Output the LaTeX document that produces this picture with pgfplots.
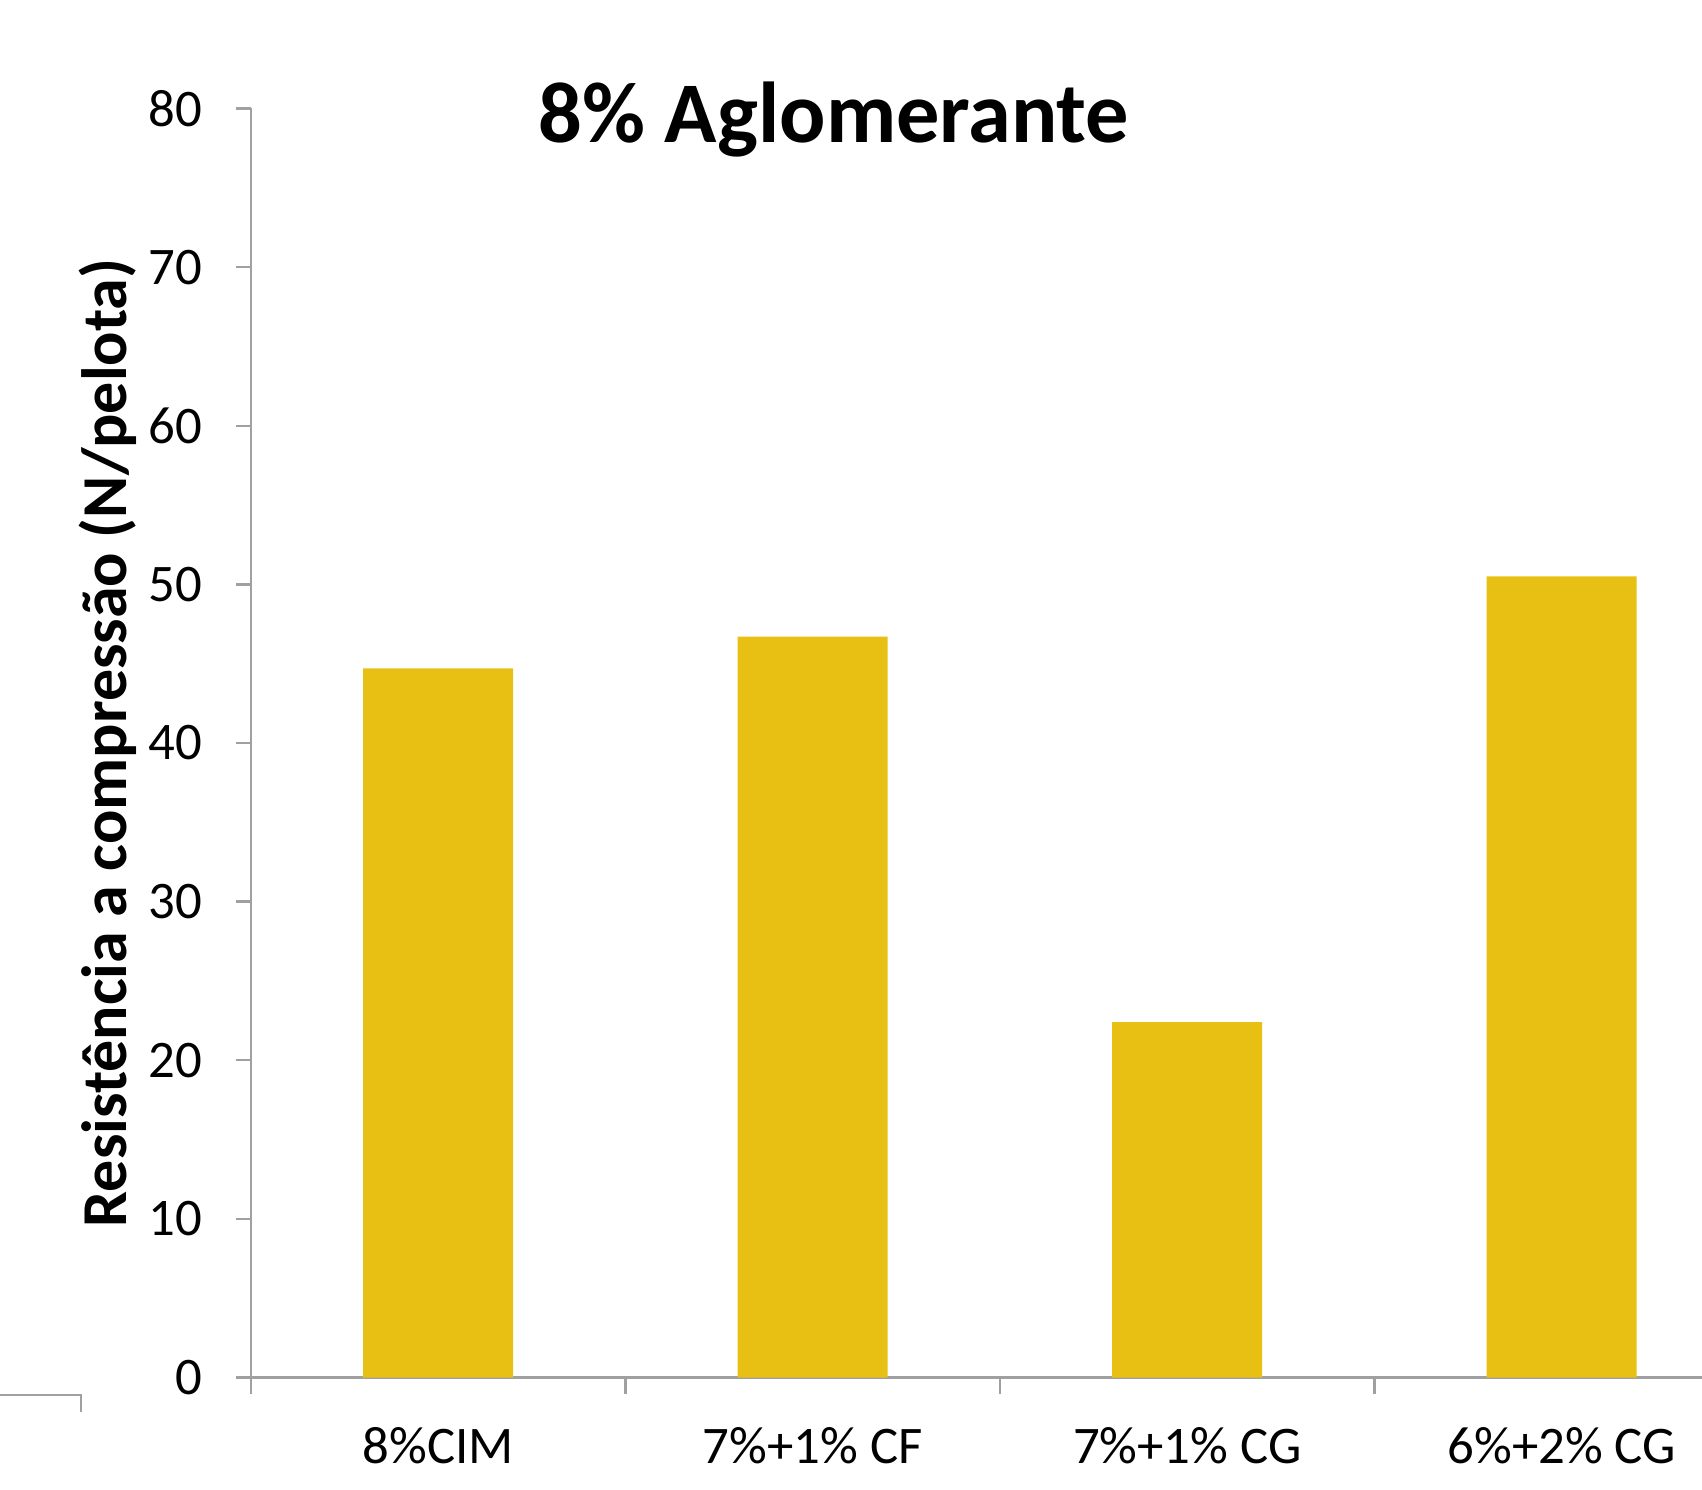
\documentclass[border=0pt]{standalone}
\usepackage{fontspec}
\setmainfont{Carlito}
\usepackage{pgfplots}
\pgfplotsset{compat=1.18}
\definecolor{barY}{HTML}{E8C013}
\definecolor{axG}{HTML}{A0A0A0}
\begin{document}
\begin{tikzpicture}[x=1pt,y=1pt]
\useasboundingbox (0,0) rectangle (425.5,372.25);
\draw[axG, line width=0.6pt] (0,{372.25-1395*0.25}) -- (20.25,{372.25-1395*0.25}) -- (20.25,{372.25-1412*0.25});
\begin{axis}[
  at={(62.75pt,27.875pt)}, anchor=south west,
  scale only axis, width=362.75pt, height=317.25pt,
  xmin=-0.5, xmax=3.375, ymin=0, ymax=80,
  axis lines*=left,
  axis line style={axG, line width=0.6pt},
  ytick={0,10,...,80},
  xtick={0,1,2,3},
  xticklabels={8\%CIM, 7\%+1\% CF, 7\%+1\% CG, 6\%+2\% CG},
  minor xtick={-0.5,0.5,1.5,2.5},
  tick align=outside,
  major x tick style={draw=none},
  minor x tick style={axG, line width=0.6pt},
  y tick style={axG, line width=0.6pt},
  major tick length=3.75pt, minor tick length=4pt,
  /pgf/number format/assume math mode=true,
  tick label style={font=\fontsize{13.2}{15}\selectfont, black},
  yticklabel style={xshift=-5pt},
  xticklabel style={yshift=-5.25pt},
  ylabel={\fontsize{16}{19}\selectfont\bfseries Resistência a compressão (N/pelota)},
  ylabel style={at={(axis description cs:-0.0986,0.5)}, anchor=center, rotate=0},
  ybar, bar width=37.5pt,
  clip=false,
]
\addplot[fill=barY, draw=none] coordinates {(0,44.7) (1,46.7) (2,22.4) (3,50.5)};
\node[anchor=base, font=\fontsize{21.6}{26}\selectfont\bfseries] at (rel axis cs:0.4017,0.973) {8\% Aglomerante};
\end{axis}
\end{tikzpicture}
\end{document}
